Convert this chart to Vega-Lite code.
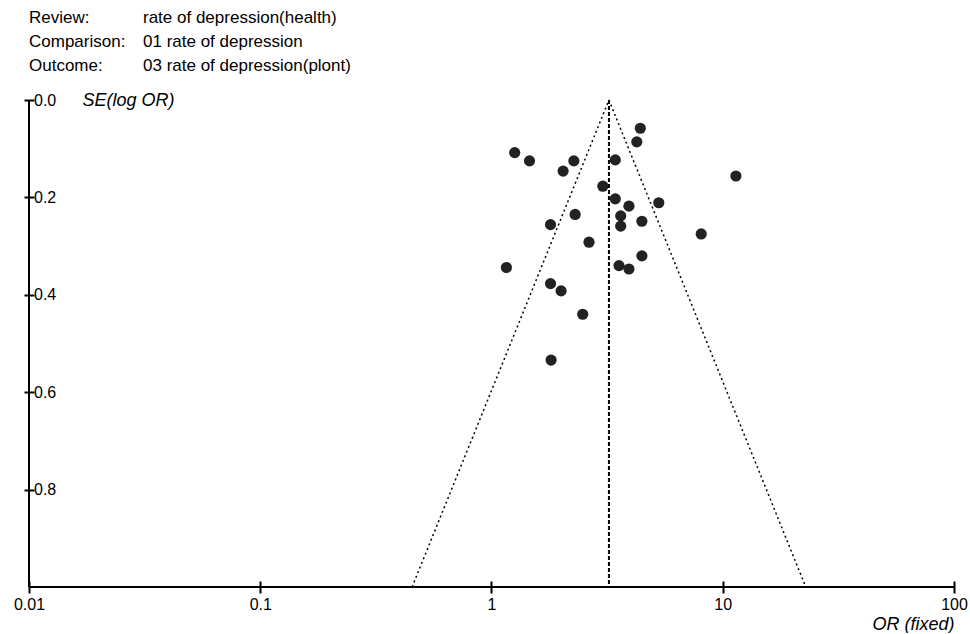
{
  "$schema": "https://vega.github.io/schema/vega-lite/v6.json",
  "padding": {"left": 13, "top": 9, "right": 0, "bottom": 0},
  "bounds": "flush",
  "spacing": 34,
  "background": "white",
  "config": {
    "font": "Liberation Sans",
    "view": {"stroke": null},
    "axis": {"labelColor": "black", "tickColor": "black", "titleColor": "black", "grid": false}
  },
  "datasets": {
    "header": [
      {"line": 1, "label": "Review:", "value": "rate of depression(health)"},
      {"line": 2, "label": "Comparison:", "value": "01 rate of depression"},
      {"line": 3, "label": "Outcome:", "value": "03 rate of depression(plont)"}
    ],
    "funnel": [
      {"side": "lower", "OR": 3.22, "SE": 0},
      {"side": "lower", "OR": 0.4536, "SE": 1},
      {"side": "upper", "OR": 3.22, "SE": 0},
      {"side": "upper", "OR": 22.86, "SE": 1}
    ],
    "studies": [
      {"OR": 4.40, "SE": 0.058},
      {"OR": 4.25, "SE": 0.086},
      {"OR": 1.26, "SE": 0.108},
      {"OR": 1.46, "SE": 0.125},
      {"OR": 2.27, "SE": 0.125},
      {"OR": 2.04, "SE": 0.146},
      {"OR": 3.43, "SE": 0.123},
      {"OR": 11.4, "SE": 0.156},
      {"OR": 3.03, "SE": 0.177},
      {"OR": 3.43, "SE": 0.203},
      {"OR": 3.93, "SE": 0.218},
      {"OR": 5.29, "SE": 0.211},
      {"OR": 2.30, "SE": 0.235},
      {"OR": 3.62, "SE": 0.238},
      {"OR": 4.47, "SE": 0.249},
      {"OR": 1.80, "SE": 0.256},
      {"OR": 3.62, "SE": 0.259},
      {"OR": 8.07, "SE": 0.275},
      {"OR": 2.64, "SE": 0.292},
      {"OR": 4.47, "SE": 0.320},
      {"OR": 1.16, "SE": 0.344},
      {"OR": 3.56, "SE": 0.340},
      {"OR": 3.93, "SE": 0.347},
      {"OR": 1.80, "SE": 0.377},
      {"OR": 2.00, "SE": 0.392},
      {"OR": 2.48, "SE": 0.440},
      {"OR": 1.81, "SE": 0.534}
    ]
  },
  "vconcat": [
    {
      "width": 114,
      "height": 48,
      "data": {"name": "header"},
      "transform": [{"fold": ["label", "value"], "as": ["col", "txt"]}],
      "mark": {"type": "text", "align": "left", "baseline": "middle", "fontSize": 17, "color": "black"},
      "encoding": {
        "x": {"field": "col", "type": "nominal", "axis": null, "scale": {"type": "point", "padding": 0, "domain": ["label", "value"]}},
        "y": {"field": "line", "type": "ordinal", "axis": null, "scale": {"type": "point", "padding": 0}},
        "text": {"field": "txt"}
      }
    },
    {
      "width": 925,
      "height": 487,
      "layer": [
        {
          "data": {"name": "funnel"},
          "mark": {"type": "line", "color": "black", "strokeWidth": 1.5, "strokeDash": [2, 3]},
          "encoding": {
            "x": {"field": "OR", "type": "quantitative", "title": "OR (fixed)",
                  "scale": {"type": "log", "domain": [0.01, 100], "nice": false},
                  "axis": {"values": [0.01, 0.1, 1, 10, 100], "format": "~g", "offset": -6, "tickSize": 12, "tickWidth": 2, "domain": false,
                           "labelFontSize": 16, "labelPadding": 3, "labelFlush": false, "labelOverlap": false,
                           "titleFontStyle": "italic", "titleFontWeight": "normal", "titleFontSize": 18, "titleAnchor": "end", "titlePadding": 3}},
            "y": {"field": "SE", "type": "quantitative", "title": "SE(log OR)",
                  "scale": {"domain": [0, 1], "reverse": true, "nice": false, "zero": false},
                  "axis": {"values": [0, 0.2, 0.4, 0.6, 0.8], "format": ".1f", "offset": -5, "tickSize": 10, "tickWidth": 2, "domain": false,
                           "labelAlign": "left", "labelBaseline": "middle", "labelPadding": -9.5, "labelFontSize": 16, "labelFlush": false,
                           "titleAngle": 0, "titleFontStyle": "italic", "titleFontWeight": "normal", "titleFontSize": 18,
                           "titleX": 48, "titleY": 0, "titleAlign": "left", "titleBaseline": "middle"}},
            "detail": {"field": "side"}
          }
        },
        {
          "data": {"values": [{}]},
          "mark": {"type": "rule", "color": "black", "strokeWidth": 2, "strokeDash": [4, 2]},
          "encoding": {"x": {"datum": 3.22, "type": "quantitative", "title": "OR (fixed)"}}
        },
        {
          "data": {"values": [{}]},
          "mark": {"type": "rule", "color": "black", "strokeWidth": 2},
          "encoding": {"x": {"datum": 0.01, "type": "quantitative", "title": "OR (fixed)"}}
        },
        {
          "data": {"values": [{}]},
          "mark": {"type": "rule", "color": "black", "strokeWidth": 2},
          "encoding": {"y": {"datum": 1, "type": "quantitative", "title": "SE(log OR)"}}
        },
        {
          "data": {"name": "studies"},
          "mark": {"type": "circle", "size": 125, "color": "#222222", "opacity": 1},
          "encoding": {
            "x": {"field": "OR", "type": "quantitative", "title": "OR (fixed)"},
            "y": {"field": "SE", "type": "quantitative", "title": "SE(log OR)"}
          }
        }
      ]
    }
  ]
}
